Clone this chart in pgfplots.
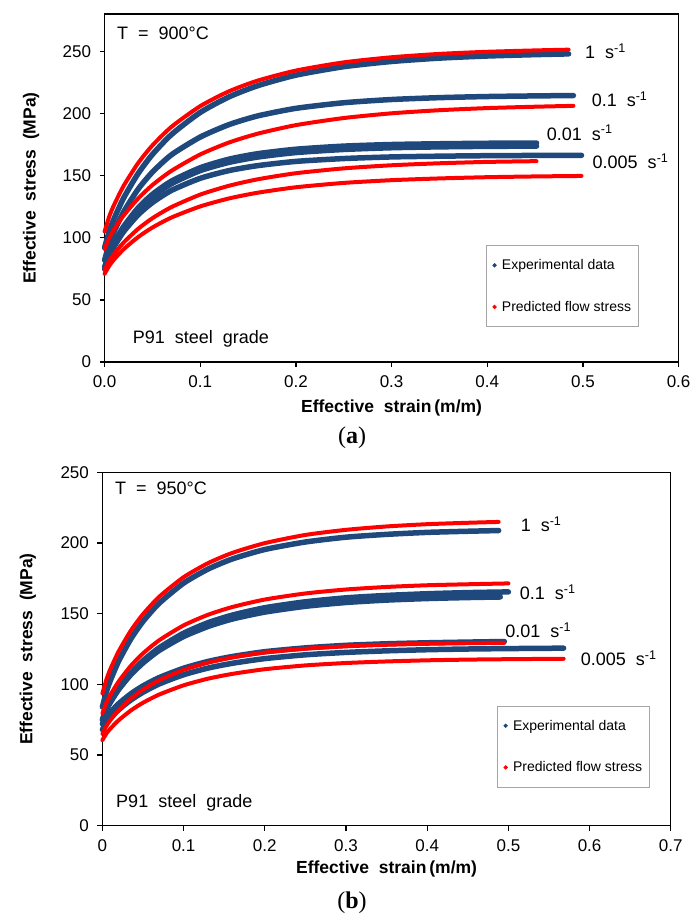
\documentclass[border=0pt]{standalone}
\usepackage{fontspec}
\setmainfont{Liberation Sans}
\newfontfamily\capfont{Liberation Serif}
\usepackage{pgfplots}
\pgfplotsset{compat=1.18}
\definecolor{expblue}{RGB}{31,73,125}
\definecolor{predred}{RGB}{255,0,0}
\pgfplotsset{
  common/.style={
    scale only axis, clip=false,
    axis line style={line width=1.3pt},
    every tick/.style={line width=1.3pt, black},
    major tick length=5pt,
    tick align=outside,
    xtick pos=bottom, ytick pos=left,
    /pgf/number format/assume math mode=true,
    ticklabel style={font=\fontsize{17}{19}\selectfont},
    xticklabel style={yshift=-5pt},
    yticklabel style={xshift=-5pt},
    legend cell align=left,
    legend image code/.code={\fill[##1] (3pt,0pt) circle (1.7pt); \path (0pt,0pt) (8pt,0pt);},
    legend style={draw=gray!70, line width=0.8pt, font=\fontsize{14}{16}\selectfont,
      row sep=26pt, inner xsep=5pt, inner ysep=12pt, anchor=north west},
  },
  exp/.style={expblue, line width=5.5pt, line cap=round, smooth, tension=0.4, forget plot},
  pred/.style={predred, line width=4pt, line cap=round, smooth, tension=0.4, forget plot},
}
\begin{document}
\begin{tikzpicture}
\useasboundingbox (0pt,0pt) rectangle (692pt,-918pt);
% ---------------- panel (a) ----------------
\begin{axis}[common,
  at={(104.6pt,-362pt)}, anchor=south west, width=574pt, height=348pt,
  xmin=0, xmax=0.6, ymin=0, ymax=280,
  xtick={0,0.1,0.2,0.3,0.4,0.5,0.6}, ytick={0,50,100,150,200,250},
  xticklabel style={/pgf/number format/.cd, fixed, fixed zerofill, precision=1},
  every axis x label/.style={at={(axis description cs:0.5,-0.132)}, anchor=center, font=\bfseries\fontsize{17.5}{20}\selectfont},
  every axis y label/.style={at={(axis description cs:-0.128,0.5)}, rotate=90, anchor=center, font=\bfseries\fontsize{17.5}{20}\selectfont},
  xlabel={Effective\ \ strain\,(m/m)}, ylabel={Effective\ \ stress\ \ (MPa)},
  legend style={at={(0.664,0.336)}},
]
% experimental
\addplot[exp] coordinates {(0,92)(0.005,105.5)(0.01,115.5)(0.02,132.1)(0.035,151.6)(0.05,167.0)(0.07,183.1)(0.1,200.8)(0.13,213.3)(0.16,222.3)(0.2,230.8)(0.25,237.6)(0.3,241.8)(0.35,244.5)(0.4,246.2)(0.45,247.3)(0.485,247.9)};
\addplot[exp] coordinates {(0,82)(0.005,95.3)(0.01,105.1)(0.02,120.9)(0.035,139.0)(0.05,152.8)(0.07,166.8)(0.1,181.0)(0.13,191.0)(0.16,198.0)(0.2,204.1)(0.25,208.6)(0.3,211.2)(0.35,212.7)(0.4,213.6)(0.45,214.1)(0.49,214.4)};
\addplot[exp] coordinates {(0,76)(0.005,87.5)(0.01,95.9)(0.02,109.1)(0.035,123.9)(0.05,134.9)(0.07,145.6)(0.1,156.3)(0.13,163.2)(0.16,167.6)(0.2,171.2)(0.25,173.7)(0.3,175.0)(0.35,175.6)(0.4,176.0)(0.4515,176.2)};
\addplot[exp] coordinates {(0,76)(0.005,87.2)(0.01,95.3)(0.02,108.2)(0.035,122.5)(0.05,133.1)(0.07,143.5)(0.1,154.0)(0.13,160.6)(0.16,164.9)(0.2,168.5)(0.25,171.0)(0.3,172.4)(0.35,173.1)(0.4,173.5)(0.4515,173.7)};
\addplot[exp] coordinates {(0,75)(0.005,85.4)(0.01,93.0)(0.02,105.0)(0.035,118.4)(0.05,128.3)(0.07,138.1)(0.1,147.8)(0.13,154.0)(0.16,158.0)(0.2,161.4)(0.25,163.7)(0.3,165.0)(0.35,165.6)(0.4,166.0)(0.45,166.2)(0.4985,166.3)};
% predicted
\addplot[pred] coordinates {(0,105)(0.005,117.4)(0.01,126.6)(0.02,141.9)(0.035,160.0)(0.05,174.3)(0.07,189.3)(0.1,205.9)(0.13,217.8)(0.16,226.4)(0.2,234.5)(0.25,241.1)(0.3,245.2)(0.35,247.9)(0.4,249.6)(0.45,250.7)(0.485,251.3)};
\addplot[pred] coordinates {(0,91)(0.005,100.0)(0.01,106.8)(0.02,118.0)(0.035,131.5)(0.05,142.4)(0.07,153.9)(0.1,167.0)(0.13,176.6)(0.16,183.7)(0.2,190.6)(0.25,196.3)(0.3,200.1)(0.35,202.6)(0.4,204.3)(0.45,205.4)(0.49,206.1)};
\addplot[pred] coordinates {(0,74)(0.005,81.4)(0.01,87.0)(0.02,96.2)(0.035,107.1)(0.05,115.7)(0.07,124.7)(0.1,134.7)(0.13,141.8)(0.16,147.0)(0.2,151.9)(0.25,155.8)(0.3,158.3)(0.35,159.9)(0.4,161.0)(0.4515,161.6)};
\addplot[pred] coordinates {(0,71)(0.005,77.6)(0.01,82.6)(0.02,90.8)(0.035,100.5)(0.05,108.2)(0.07,116.3)(0.1,125.2)(0.13,131.6)(0.16,136.2)(0.2,140.6)(0.25,144.1)(0.3,146.3)(0.35,147.7)(0.4,148.7)(0.45,149.3)(0.4985,149.7)};
\addlegendimage{expblue}\addlegendentry{Experimental data}
\addlegendimage{predred}\addlegendentry{Predicted flow stress}
\begin{scope}[every node/.style={font=\fontsize{18}{20}\selectfont, anchor=west, inner sep=0pt}]
\node at (axis cs:0.502,249.8) {1\ \ s\textsuperscript{-1}};
\node at (axis cs:0.509,211.7) {0.1\ \ s\textsuperscript{-1}};
\node at (axis cs:0.462,184.4) {0.01\ \ s\textsuperscript{-1}};
\node at (axis cs:0.510,161.3) {0.005\ \ s\textsuperscript{-1}};
\node at (axis description cs:0.0216,0.945) {T\ \ =\ \ 900°C};
\node at (axis description cs:0.049,0.066) {P91\ \ steel\ \ grade};
\end{scope}
\end{axis}
\node[font=\capfont\fontsize{24}{26}\selectfont] at (352pt,-438pt) {(\textbf{a})};
% ---------------- panel (b) ----------------
\begin{axis}[common,
  at={(102.4pt,-825.7pt)}, anchor=south west, width=568.4pt, height=353.4pt,
  xmin=0, xmax=0.7, ymin=0, ymax=250,
  xtick={0,0.1,0.2,0.3,0.4,0.5,0.6,0.7}, ytick={0,50,100,150,200,250},
  every axis x label/.style={at={(axis description cs:0.5,-0.1225)}, anchor=center, font=\bfseries\fontsize{17.5}{20}\selectfont},
  every axis y label/.style={at={(axis description cs:-0.131,0.5)}, rotate=90, anchor=center, font=\bfseries\fontsize{17.5}{20}\selectfont},
  xlabel={Effective\ \ strain\,(m/m)}, ylabel={Effective\ \ stress\ \ (MPa)},
  legend style={at={(0.694,0.34)}},
]
\addplot[exp] coordinates {(0,84)(0.005,94.9)(0.01,103.0)(0.02,116.4)(0.035,132.1)(0.05,144.5)(0.07,157.4)(0.1,171.6)(0.13,181.5)(0.16,188.7)(0.2,195.4)(0.25,200.7)(0.3,204.1)(0.35,206.1)(0.4,207.5)(0.45,208.3)(0.488,208.8)};
\addplot[exp] coordinates {(0,75)(0.005,82.4)(0.01,87.9)(0.02,97.1)(0.035,108.0)(0.05,116.7)(0.07,125.9)(0.1,136.2)(0.13,143.6)(0.16,149.0)(0.2,154.2)(0.25,158.4)(0.3,161.2)(0.35,162.9)(0.4,164.1)(0.45,164.9)(0.5,165.4)};
\addplot[exp] coordinates {(0,75)(0.005,82.1)(0.01,87.4)(0.02,96.3)(0.035,106.8)(0.05,115.1)(0.07,124.0)(0.1,133.8)(0.13,140.9)(0.16,146.2)(0.2,151.1)(0.25,155.2)(0.3,157.9)(0.35,159.6)(0.4,160.7)(0.45,161.4)(0.49,161.8)};
\addplot[exp] coordinates {(0,72)(0.005,76.8)(0.01,80.3)(0.02,86.3)(0.035,93.3)(0.05,98.9)(0.07,104.8)(0.1,111.4)(0.13,116.2)(0.16,119.7)(0.2,123.1)(0.25,125.8)(0.3,127.6)(0.35,128.7)(0.4,129.4)(0.45,129.9)(0.495,130.3)};
\addplot[exp] coordinates {(0,68)(0.005,72.7)(0.01,76.2)(0.02,82.0)(0.035,88.9)(0.05,94.4)(0.07,100.3)(0.1,106.8)(0.13,111.5)(0.16,114.9)(0.2,118.2)(0.25,120.9)(0.3,122.6)(0.35,123.7)(0.4,124.5)(0.45,125.0)(0.5,125.3)(0.568,125.6)};
\addplot[pred] coordinates {(0,93.6)(0.005,103.5)(0.01,111.0)(0.02,123.3)(0.035,138.0)(0.05,149.6)(0.07,162.0)(0.1,175.8)(0.13,185.7)(0.16,193.0)(0.2,199.9)(0.25,205.7)(0.3,209.3)(0.35,211.7)(0.4,213.3)(0.45,214.3)(0.488,214.9)};
\addplot[pred] coordinates {(0,79.5)(0.005,87.0)(0.01,92.7)(0.02,102.0)(0.035,113.1)(0.05,121.9)(0.07,131.2)(0.1,141.7)(0.13,149.2)(0.16,154.7)(0.2,160.0)(0.25,164.3)(0.3,167.1)(0.35,168.9)(0.4,170.1)(0.45,170.8)(0.5,171.4)};
\addplot[pred] coordinates {(0,65)(0.005,70.6)(0.01,74.8)(0.02,81.7)(0.035,89.8)(0.05,96.2)(0.07,102.9)(0.1,110.2)(0.13,115.3)(0.16,119.0)(0.2,122.5)(0.25,125.2)(0.3,126.9)(0.35,128.0)(0.4,128.7)(0.45,129.1)(0.495,129.4)};
\addplot[pred] coordinates {(0,60.6)(0.005,65.3)(0.01,68.8)(0.02,74.6)(0.035,81.5)(0.05,87.0)(0.07,92.8)(0.1,99.3)(0.13,104.0)(0.16,107.4)(0.2,110.7)(0.25,113.4)(0.3,115.1)(0.35,116.2)(0.4,117.0)(0.45,117.5)(0.5,117.8)(0.568,118.1)};
\addlegendimage{expblue}\addlegendentry{Experimental data}
\addlegendimage{predred}\addlegendentry{Predicted flow stress}
\begin{scope}[every node/.style={font=\fontsize{18}{20}\selectfont, anchor=west, inner sep=0pt}]
\node at (axis cs:0.515,213) {1\ \ s\textsuperscript{-1}};
\node at (axis cs:0.514,165) {0.1\ \ s\textsuperscript{-1}};
\node at (axis cs:0.496,138.4) {0.01\ \ s\textsuperscript{-1}};
\node at (axis cs:0.589,118.4) {0.005\ \ s\textsuperscript{-1}};
\node at (axis description cs:0.022,0.956) {T\ \ =\ \ 950°C};
\node at (axis description cs:0.024,0.0646) {P91\ \ steel\ \ grade};
\end{scope}
\end{axis}
\node[font=\capfont\fontsize{24}{26}\selectfont] at (352pt,-903pt) {(\textbf{b})};
\end{tikzpicture}
\end{document}
